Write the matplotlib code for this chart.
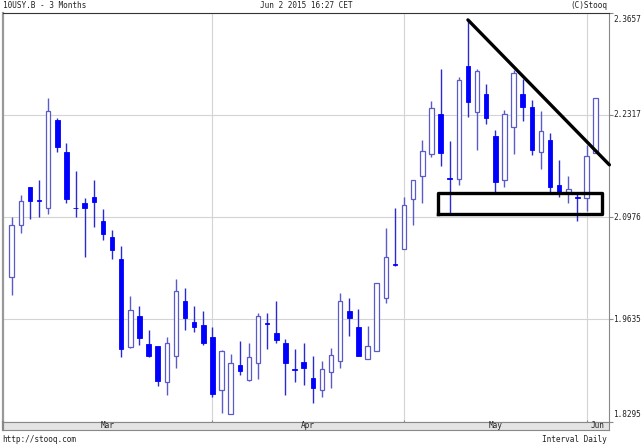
import pandas as pd
import matplotlib
matplotlib.use('Agg')
import matplotlib.pyplot as plt

# trading days shown (Good Friday and Memorial Day missing)
days = pd.bdate_range('2015-03-02', '2015-06-02')
days = days[~days.isin(pd.to_datetime(['2015-04-03', '2015-05-25']))]

opens = [2.019, 2.087, 2.137, 2.119, 2.110, 2.225, 2.183, 2.110, 2.116, 2.124,
         2.092, 2.071, 2.043, 1.927, 1.968, 1.931, 1.928, 1.881, 1.915, 1.988,
         1.960, 1.956, 1.940, 1.871, 1.839, 1.903, 1.884, 1.906, 1.959, 1.945,
         1.932, 1.898, 1.908, 1.886, 1.871, 1.894, 1.909, 1.974, 1.954, 1.911,
         1.922, 1.991, 2.036, 2.056, 2.121, 2.151, 2.180, 2.233, 2.149, 2.147,
         2.296, 2.235, 2.259, 2.204, 2.146, 2.216, 2.259, 2.242, 2.183, 2.199,
         2.140, 2.131, 2.124, 2.123, 2.181]
highs = [2.097, 2.127, 2.137, 2.146, 2.253, 2.228, 2.194, 2.158, 2.123, 2.146,
         2.108, 2.081, 2.060, 1.994, 1.981, 1.949, 1.928, 1.940, 2.016, 2.005,
         1.981, 1.974, 1.953, 1.923, 1.918, 1.935, 1.932, 1.972, 1.972, 1.988,
         1.938, 1.925, 1.933, 1.915, 1.909, 1.926, 1.998, 1.991, 1.977, 1.955,
         2.011, 2.083, 2.110, 2.124, 2.146, 2.199, 2.250, 2.291, 2.197, 2.281,
         2.356, 2.291, 2.272, 2.212, 2.238, 2.290, 2.279, 2.251, 2.236, 2.208,
         2.172, 2.151, 2.131, 2.192, 2.253]
lows = [1.995, 2.076, 2.095, 2.097, 2.102, 2.183, 2.116, 2.097, 2.045, 2.085,
        2.067, 2.043, 1.914, 1.926, 1.930, 1.914, 1.876, 1.864, 1.899, 1.950,
        1.947, 1.930, 1.861, 1.841, 1.839, 1.890, 1.882, 1.885, 1.925, 1.933,
        1.864, 1.881, 1.877, 1.854, 1.862, 1.874, 1.899, 1.941, 1.915, 1.911,
        1.922, 1.985, 2.033, 2.056, 2.087, 2.116, 2.176, 2.165, 2.102, 2.140,
        2.229, 2.186, 2.219, 2.128, 2.137, 2.180, 2.224, 2.179, 2.161, 2.131,
        2.124, 2.116, 2.092, 2.106, 2.181]
closes = [2.087, 2.118, 2.119, 2.1185, 2.237, 2.189, 2.121, 2.109, 2.110, 2.117,
          2.075, 2.054, 1.925, 1.976, 1.939, 1.916, 1.882, 1.933, 2.001, 1.965,
          1.953, 1.933, 1.866, 1.922, 1.906, 1.896, 1.914, 1.968, 1.957, 1.937,
          1.906, 1.897, 1.900, 1.874, 1.898, 1.917, 1.988, 1.965, 1.915, 1.929,
          2.011, 2.045, 2.035, 2.113, 2.146, 2.184, 2.241, 2.181, 2.148, 2.277,
          2.248, 2.289, 2.228, 2.143, 2.233, 2.286, 2.242, 2.186, 2.210, 2.137,
          2.130, 2.134, 2.123, 2.178, 2.253]

y_labels = [1.8295, 1.9635, 2.0976, 2.2317, 2.3657]
month_names = ['Mar', 'Apr', 'May', 'Jun']

# hand-drawn annotations (index, value)
trend_x = [50, 65.5]
trend_y = [2.356, 2.166]
box_x = [46.75, 64.66]
box_y = [2.1011, 2.1295]

font = dict(family='DejaVu Sans Mono', fontsize=5.6, color='#222222')

fig = plt.figure(figsize=(6.44, 4.46), dpi=100)
ax = fig.add_axes([3/644, 24.5/446, 606/644, 409/446])
x0, x1 = -0.95, 65.46
ax.set_xlim(x0, x1)
ax.set_ylim(y_labels[0], y_labels[-1])

# month boundaries = first trading day of each month
month_idx = [i for i in range(1, len(days)) if days[i].month != days[i-1].month]
for m in month_idx:
    ax.axvline(m, color='#d4d4d4', lw=0.8, zorder=0)
for v in y_labels[1:-1]:
    ax.axhline(v, color='#d4d4d4', lw=0.8, zorder=0)

# candles
for i in range(len(days)):
    o, h, l, c = opens[i], highs[i], lows[i], closes[i]
    if c >= o:
        ax.vlines(i, l, h, color='#5a5ac8', lw=1.0, zorder=2)
        ax.bar(i, max(c - o, 0.0008), bottom=o, width=0.5, facecolor='white',
               edgecolor='#5a5ac8', lw=0.9, zorder=3)
    else:
        ax.vlines(i, l, h, color='#2a2ad0', lw=1.0, zorder=2)
        ax.bar(i, max(o - c, 0.0008), bottom=c, width=0.5, facecolor='#0000ff',
               edgecolor='#0000ff', lw=0.6, zorder=3)

ax.plot(trend_x, trend_y, color='black', lw=2.4, solid_capstyle='round', zorder=5, clip_on=False)
ax.plot([box_x[0], box_x[1], box_x[1], box_x[0], box_x[0]],
        [box_y[0], box_y[0], box_y[1], box_y[1], box_y[0]],
        color='black', lw=2.4, zorder=5)

ax.set_xticks(month_idx)
ax.set_xticklabels([])
ax.tick_params(axis='x', length=3, direction='inout', color='#888888')
ax.set_yticks(y_labels)
ax.set_yticklabels([])
ax.tick_params(axis='y', left=False, right=True, length=3, direction='out', color='#888888')

for v, off in zip(y_labels, [5, 0, 0, 0, -5]):
    ax.annotate('%.4f' % v, xy=(1, v), xycoords=('axes fraction', 'data'),
                xytext=(3, off), textcoords='offset points', va='center', ha='left', **font)

ax.spines['top'].set_color('#333333')
ax.spines['left'].set_color('#999999')
ax.spines['left'].set_linewidth(1.6)
ax.spines['right'].set_color('#888888')
ax.spines['bottom'].set_color('#888888')

# month strip
sx = fig.add_axes([3/644, 16.5/446, 606/644, 8/446])
sx.set_facecolor('#e4e4e4')
sx.set_xlim(x0, x1)
sx.set_ylim(0, 1)
sx.set_xticks([])
sx.set_yticks([])
for s in sx.spines.values():
    s.set_color('#888888')
sx.spines['left'].set_linewidth(1.6)
edges = [x0] + month_idx + [x1]
for k, name in enumerate(month_names):
    sx.text((edges[k] + edges[k+1]) / 2, 0.45, name, ha='center', va='center', **font)

fig.text(3/644, 1 - 5.5/446, '10USY.B - 3 Months', ha='left', va='center', **font)
fig.text(306/644, 1 - 5.5/446, 'Jun 2 2015 16:27 CET', ha='center', va='center', **font)
fig.text(607/644, 1 - 5.5/446, '(C)Stooq', ha='right', va='center', **font)
fig.text(2/644, 1 - 439/446, 'http://stooq.com', ha='left', va='center', **font)
fig.text(607/644, 1 - 439/446, 'Interval Daily', ha='right', va='center', **font)

fig.savefig('out.png', dpi=100)
